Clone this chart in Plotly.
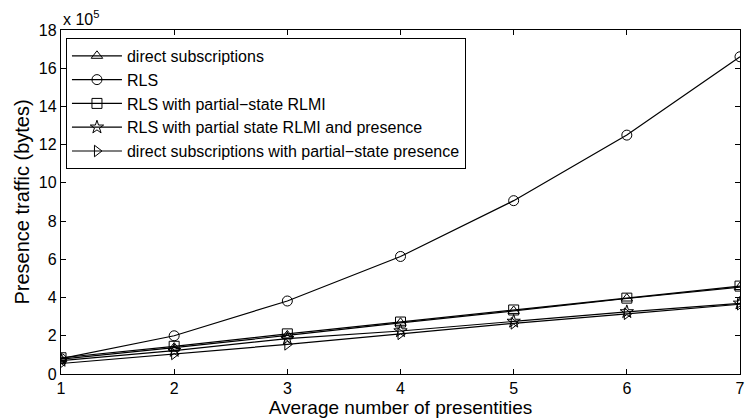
import plotly.graph_objects as go

x_vals = [1, 2, 3, 4, 5, 6, 7]
# values in units of 1e5 bytes
direct_subs = [0.78, 1.38, 2.02, 2.68, 3.3, 3.95, 4.55]
rls = [0.8, 2.0, 3.82, 6.15, 9.07, 12.5, 16.6]
rls_partial_rlmi = [0.85, 1.45, 2.1, 2.72, 3.35, 3.97, 4.6]
rls_partial_rlmi_presence = [0.7, 1.22, 1.85, 2.25, 2.75, 3.25, 3.7]
direct_partial_presence = [0.55, 1.05, 1.55, 2.1, 2.65, 3.15, 3.65]

series = [
    ("direct subscriptions", direct_subs, "triangle-up-open"),
    ("RLS", rls, "circle-open"),
    ("RLS with partial\u2212state RLMI", rls_partial_rlmi, "square-open"),
    ("RLS with partial state RLMI and presence", rls_partial_rlmi_presence, "star-open"),
    ("direct subscriptions with partial\u2212state presence", direct_partial_presence, "triangle-right-open"),
]

y_ticks = [0, 2, 4, 6, 8, 10, 12, 14, 16, 18]

fig = go.Figure()
for name, ys, sym in series:
    fig.add_trace(go.Scatter(
        x=x_vals, y=ys, name=name, mode="lines+markers",
        line=dict(color="black", width=1.2),
        marker=dict(symbol=sym, size=10, color="black", line=dict(width=1, color="black")),
    ))

font_family = "Liberation Sans, Arial, sans-serif"
fig.update_layout(
    width=750, height=420,
    margin=dict(l=61, r=5, t=30, b=46),
    paper_bgcolor="white", plot_bgcolor="white",
    font=dict(family=font_family, size=16, color="black"),
    showlegend=True,
    legend=dict(
        x=0.0073, y=0.977, xanchor="left", yanchor="top",
        bgcolor="white", bordercolor="black", borderwidth=1,
        font=dict(size=16), itemwidth=50, tracegroupgap=0,
    ),
    xaxis=dict(
        range=[1, 7], tickvals=x_vals, ticks="inside", ticklen=5,
        showline=True, linecolor="black", linewidth=1.3, mirror="ticks",
        showgrid=False, zeroline=False, tickcolor="black",
        title=dict(text="Average number of presentities", font=dict(size=19), standoff=2),
        tickfont=dict(size=16),
    ),
    yaxis=dict(
        range=[0, 18], tickvals=y_ticks, ticks="inside", ticklen=5,
        showline=True, linecolor="black", linewidth=1.3, mirror="ticks",
        showgrid=False, zeroline=False, tickcolor="black",
        title=dict(text="Presence traffic (bytes)", font=dict(size=20), standoff=3),
        tickfont=dict(size=16),
    ),
    annotations=[dict(
        text="x 10<sup>5</sup>", xref="paper", yref="paper", x=0, y=1,
        xanchor="left", yanchor="bottom", showarrow=False, font=dict(size=16),
    )],
)

fig.write_html("out.html")
